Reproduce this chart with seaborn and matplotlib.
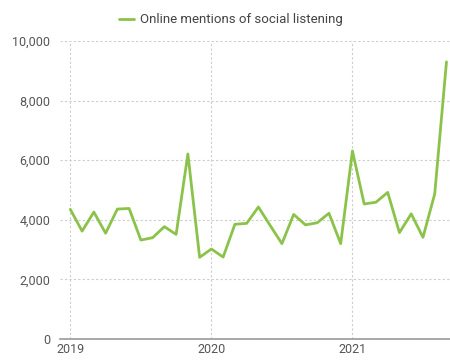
import matplotlib
matplotlib.use("Agg")
import matplotlib.pyplot as plt
import seaborn as sns
import pandas as pd
from matplotlib.ticker import FuncFormatter

months = list(range(33))  # Jan 2019 .. Sep 2021
mentions = [4350, 3620, 4260, 3550, 4360, 4380, 3320, 3400, 3770, 3510, 6210, 2740,
            3020, 2750, 3850, 3880, 4430, 3810, 3200, 4180, 3830, 3900, 4220, 3200,
            6310, 4530, 4590, 4920, 3570, 4200, 3410, 4870, 9300]
year_ticks = [0, 12, 24]
year_labels = ["2019", "2020", "2021"]
series_name = "Online mentions of social listening"

df = pd.DataFrame({"month": months, "mentions": mentions, "series": series_name})

sns.set_theme(style="white")
plt.rcParams["font.family"] = ["Roboto", "DejaVu Sans"]

fig = plt.figure(figsize=(4.5, 3.61), dpi=100)
ax = fig.add_axes([60/450, 1 - 339/361, 390/450, 298/361])

sns.lineplot(data=df, x="month", y="mentions", hue="series", palette=["#8bc34a"],
             linewidth=2.0, ax=ax, legend=True)

ax.set_xlim(-0.88, 32.3)
ax.set_ylim(0, 10000)
ax.set_xticks(year_ticks)
ax.set_xticklabels(year_labels)
ax.set_yticks([0, 2000, 4000, 6000, 8000, 10000])
ax.yaxis.set_major_formatter(FuncFormatter(lambda v, p: f"{int(v):,}"))
ax.set_xlabel("")
ax.set_ylabel("")

ax.grid(True, linestyle=(0, (2, 2)), color="#cccccc", linewidth=0.8)
ax.set_axisbelow(True)
for s in ["top", "right", "left"]:
    ax.spines[s].set_visible(False)
ax.spines["bottom"].set_color("#999999")
ax.spines["bottom"].set_linewidth(1.2)
ax.tick_params(axis="both", length=0, labelsize=9, labelcolor="#555555")
ax.tick_params(axis="y", pad=7)
ax.tick_params(axis="x", pad=3)

leg = ax.legend(loc="upper center", bbox_to_anchor=(0.5 - 24/390, 1 + 33/298), ncol=1,
                frameon=False, fontsize=9.5, handlelength=1.1, handletextpad=0.5,
                borderaxespad=0)
for t in leg.get_texts():
    t.set_color("#444444")

fig.savefig("out.png", dpi=100)
